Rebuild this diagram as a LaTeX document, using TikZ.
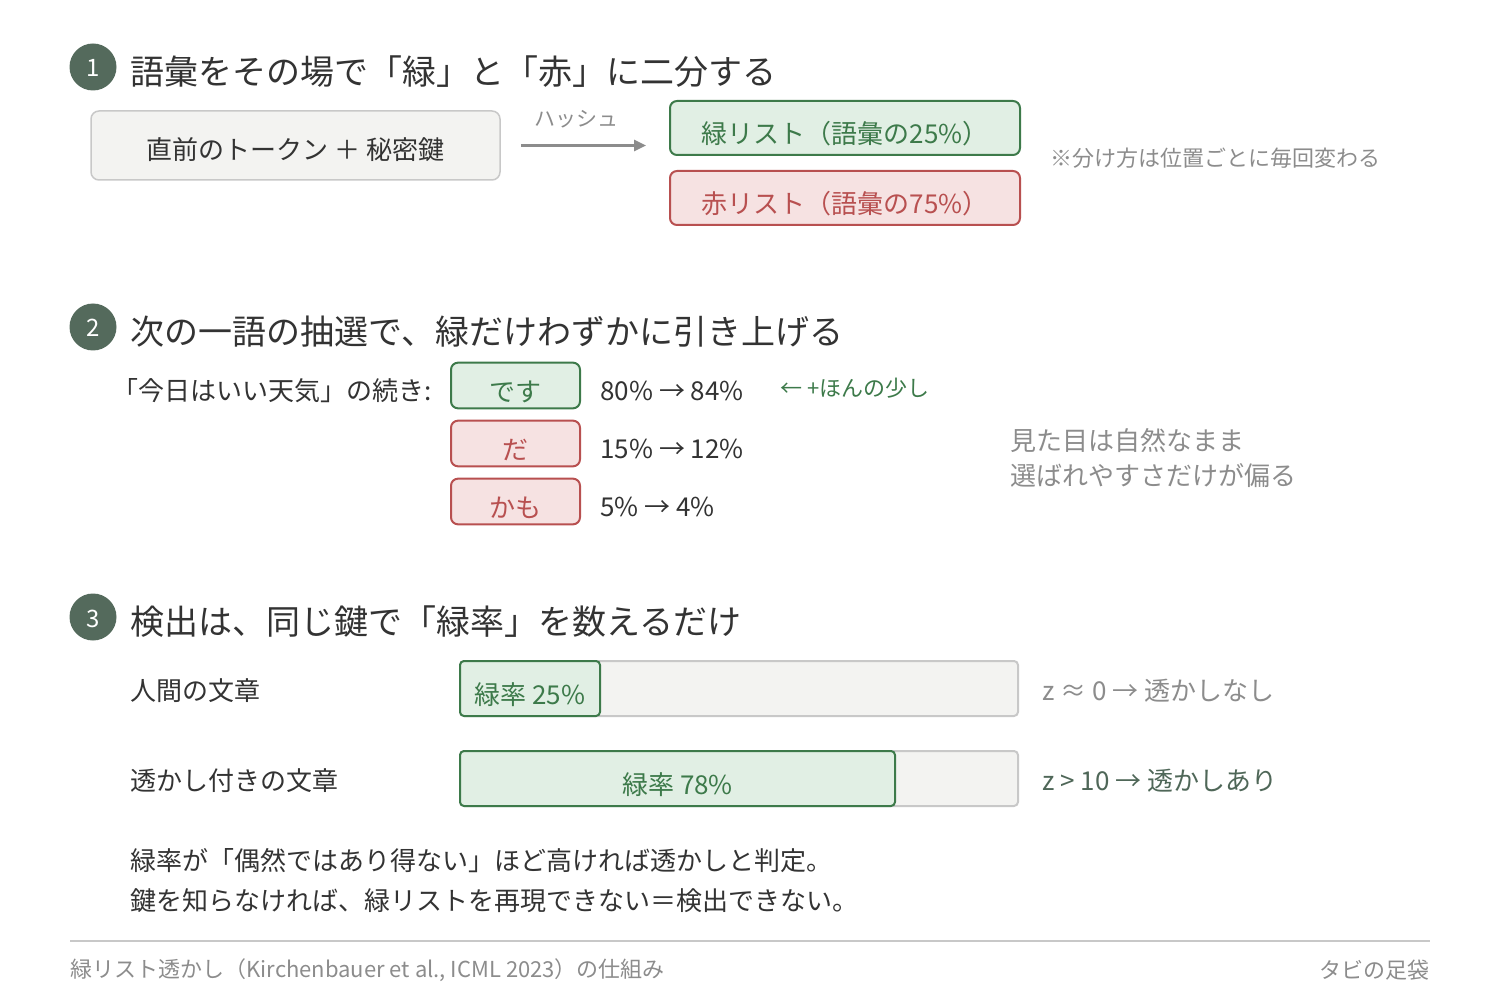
\documentclass[tikz,border=0pt]{standalone}
\usepackage{fontspec}
\setmainfont{Noto Sans CJK JP}
\usetikzlibrary{arrows.meta}

\definecolor{ink}{RGB}{51,51,51}
\definecolor{muted}{RGB}{140,140,140}
\definecolor{stepcol}{RGB}{84,106,92}
\definecolor{greenline}{RGB}{61,122,74}
\definecolor{greenfill}{RGB}{225,239,228}
\definecolor{redline}{RGB}{184,80,80}
\definecolor{redfill}{RGB}{246,226,226}
\definecolor{keyline}{RGB}{200,200,200}
\definecolor{keyfill}{RGB}{243,243,241}
\definecolor{verdict}{RGB}{79,103,88}

\tikzset{every picture/.style={line width=1pt}}

\begin{document}
\begin{tikzpicture}[x=1pt,y=1pt,yscale=-1,
  num/.style={circle, fill=stepcol, minimum size=47pt, inner sep=0, text=white, text height=21pt, text depth=1pt, font=\fontsize{24}{28}\selectfont},
  title/.style={anchor=west, inner sep=0, text=ink, font=\fontsize{34}{40}\selectfont},
  body/.style={anchor=west, inner sep=0, text=ink, font=\fontsize{26}{30}\selectfont},
  small/.style={anchor=west, inner sep=0, text=muted, font=\fontsize{22}{26}\selectfont},
  lowtext/.style={text height=35pt, text depth=4pt},
  keybox/.style={draw=keyline, fill=keyfill, line width=1.5pt, rounded corners=8pt, text=ink, text height=33pt, text depth=4pt, font=\fontsize{26}{30}\selectfont},
  greenbox/.style={draw=greenline, fill=greenfill, line width=2pt, rounded corners=7pt, text=greenline, lowtext, font=\fontsize{26}{30}\selectfont},
  redbox/.style={draw=redline, fill=redfill, line width=2pt, rounded corners=7pt, text=redline, lowtext, font=\fontsize{26}{30}\selectfont},
  track/.style={draw=keyline, fill=keyfill, line width=2pt, rounded corners=4pt, minimum width=558pt, minimum height=55pt},
  greenbar/.style={greenbox, rounded corners=4pt, minimum height=55pt}]
  \useasboundingbox (0,0) rectangle (1500,1000);

  % Step 1
  \node[num] (n1) at (93,67) {1};
  \node[title] (t1) at (130,72) {語彙をその場で「緑」と「赤」に二分する};
  \node[keybox, minimum width=409pt, minimum height=69pt] (key) at (295.5,145.5) {直前のトークン ＋ 秘密鍵};
  \node[greenbox, minimum width=350pt, minimum height=54pt] (glist) at (845,128) {緑リスト（語彙の25\%）};
  \node[redbox, minimum width=350pt, minimum height=54pt] (rlist) at (845,198) {赤リスト（語彙の75\%）};
  %Straight Lines
  \draw[draw=muted, line width=2.5pt, -{Triangle[length=12pt,width=11pt]}, shorten <=20pt, shorten >=23pt] (key.east) -- (key.east -| glist.west) node[midway, above=16pt, xshift=-8pt, inner sep=0, text=muted, font=\fontsize{21}{24}\selectfont] (hash) {ハッシュ};
  \node[small] (split) at (1050,158) {※分け方は位置ごとに毎回変わる};

  % Step 2
  \node[num] (n2) at (93,327) {2};
  \node[title] (t2) at (130,332) {次の一語の抽選で、緑だけわずかに引き上げる};
  \node[body, anchor=east] (ctx) at (432,391) {「今日はいい天気」の続き:};
  \node[greenbox, minimum width=129pt, minimum height=45pt] (desu) at (515.5,385.5) {です};
  \node[redbox, minimum width=129pt, minimum height=45pt] (da) at (515.5,443.5) {だ};
  \node[redbox, minimum width=129pt, minimum height=45pt] (kamo) at (515.5,501.5) {かも};
  \node[body] (p1) at (600,391) {80\% → 84\%};
  \node[body] (p2) at (600,449) {15\% → 12\%};
  \node[body] (p3) at (600,507) {5\% → 4\%};
  \node[small, text=greenline] (bump) at (780,388) {← +ほんの少し};
  \node[body, text=muted, align=left, font=\fontsize{26}{35}\selectfont] (look) at (1010,458) {見た目は自然なまま\\選ばれやすさだけが偏る};

  % Step 3
  \node[num] (n3) at (93,617) {3};
  \node[title] (t3) at (130,622) {検出は、同じ鍵で「緑率」を数えるだけ};
  \node[body] (human) at (130,691) {人間の文章};
  \node[track] (track1) at (739,688.5) {};
  \node[greenbar, minimum width=140pt] (bar1) at (530,688.5) {緑率 25\%};
  \node[body, text=muted] (z1) at (1042,691) {z ≈ 0 → 透かしなし};
  \node[body] (marked) at (130,781) {透かし付きの文章};
  \node[track] (track2) at (739,778.5) {};
  \node[greenbar, minimum width=435pt] (bar2) at (677.5,778.5) {緑率 78\%};
  \node[body, text=verdict] (z2) at (1042,781) {z > 10 → 透かしあり};
  \node[body, align=left, font=\fontsize{26}{40}\selectfont] (verdict) at (130,881) {緑率が「偶然ではあり得ない」ほど高ければ透かしと判定。\\鍵を知らなければ、緑リストを再現できない＝検出できない。};

  % Footer
  \draw[draw=keyline, line width=2pt] (70,941) -- (1430,941);
  \node[small, font=\fontsize{22}{26}\selectfont] (src) at (70,970) {緑リスト透かし（Kirchenbauer et al., ICML 2023）の仕組み};
  \node[small, anchor=east, font=\fontsize{22}{26}\selectfont] (brand) at (1430,970) {タビの足袋};
\end{tikzpicture}
\end{document}
